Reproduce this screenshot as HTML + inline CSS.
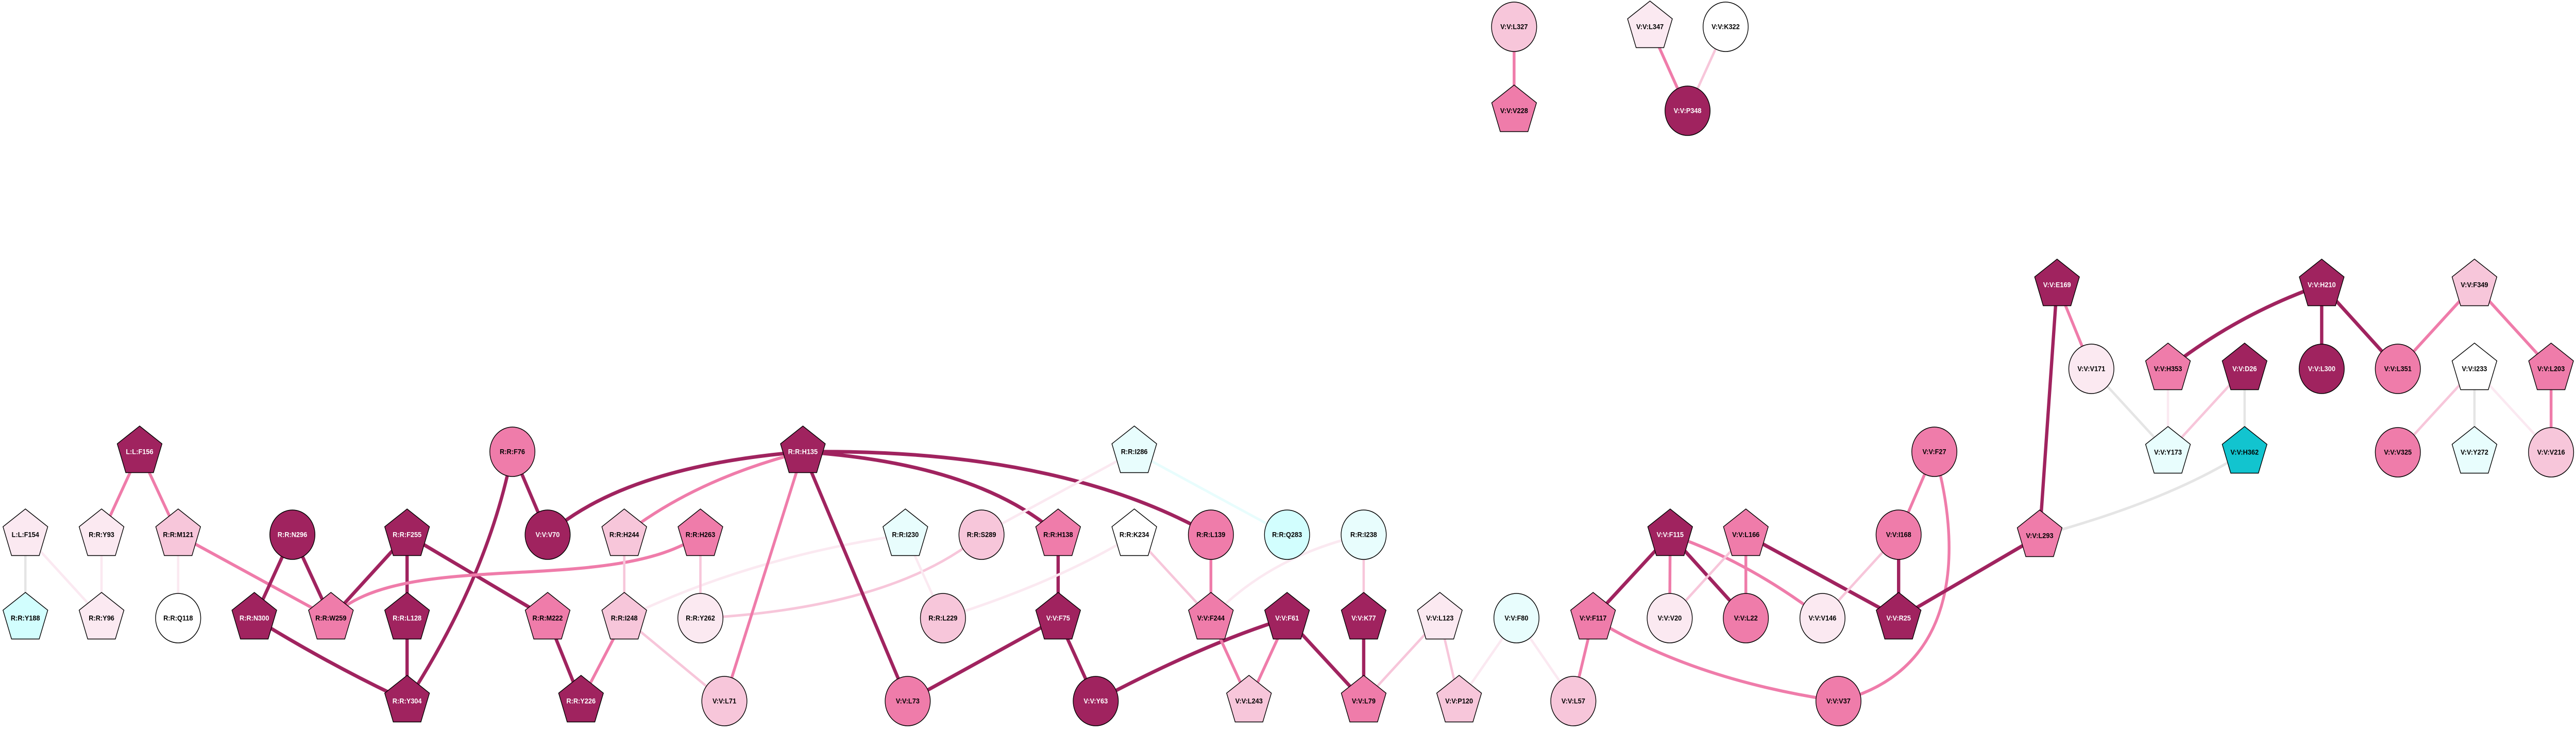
<!DOCTYPE html>
<html><head><meta charset="utf-8"><style>
html,body{margin:0;padding:0;background:#fff;width:100%;height:100%;overflow:hidden;}
svg{display:block;width:100vw;height:100vh;}
svg text{font-family:"Liberation Sans",sans-serif;font-weight:bold;font-size:14px;text-anchor:middle;dominant-baseline:central;}
.w{fill:#fff}
</style></head><body>
<svg viewBox="0 0 5480 1421" preserveAspectRatio="none" xmlns="http://www.w3.org/2000/svg" overflow="hidden">
<defs>
<polygon id="pg" points="0,-50 47.6,-15.5 29.4,40.5 -29.4,40.5 -47.6,-15.5" stroke="#000" stroke-width="1.5"/>
</defs>
<g fill="none" stroke-linecap="butt">
<line x1="297" y1="877" x2="216" y2="1038" stroke="#EF7CAA" stroke-width="6"/>
<line x1="297" y1="877" x2="379" y2="1038" stroke="#EF7CAA" stroke-width="6"/>
<line x1="54" y1="1038" x2="54" y2="1200" stroke="#E5E5E5" stroke-width="5"/>
<line x1="54" y1="1038" x2="216" y2="1200" stroke="#FBE9F1" stroke-width="5"/>
<line x1="216" y1="1038" x2="216" y2="1200" stroke="#FBE9F1" stroke-width="5"/>
<line x1="379" y1="1038" x2="379" y2="1200" stroke="#FBE9F1" stroke-width="5"/>
<line x1="379" y1="1038" x2="704" y2="1200" stroke="#EF7CAA" stroke-width="6"/>
<line x1="622" y1="1038" x2="541" y2="1200" stroke="#A0235F" stroke-width="7"/>
<line x1="622" y1="1038" x2="704" y2="1200" stroke="#A0235F" stroke-width="7"/>
<line x1="866" y1="1038" x2="704" y2="1200" stroke="#A0235F" stroke-width="7"/>
<line x1="866" y1="1038" x2="866" y2="1200" stroke="#A0235F" stroke-width="7"/>
<line x1="866" y1="1038" x2="1165" y2="1200" stroke="#A0235F" stroke-width="7"/>
<line x1="866" y1="1200" x2="866" y2="1361" stroke="#A0235F" stroke-width="7"/>
<path d="M541,1200 Q700,1290 866,1361" stroke="#A0235F" stroke-width="7"/>
<path d="M1090,877 Q1040,1116 866,1361" stroke="#A0235F" stroke-width="7"/>
<line x1="1090" y1="877" x2="1165" y2="1038" stroke="#A0235F" stroke-width="7"/>
<path d="M1165,1038 Q1330,905 1708,877" stroke="#A0235F" stroke-width="7"/>
<path d="M704,1200 C850,1060 1300,1160 1490,1038" stroke="#EF7CAA" stroke-width="6"/>
<path d="M1328,1038 Q1480,930 1708,877" stroke="#EF7CAA" stroke-width="6"/>
<line x1="1328" y1="1038" x2="1328" y2="1200" stroke="#F7C6DA" stroke-width="5"/>
<line x1="1328" y1="1200" x2="1236" y2="1361" stroke="#EF7CAA" stroke-width="6"/>
<line x1="1165" y1="1200" x2="1236" y2="1361" stroke="#A0235F" stroke-width="7"/>
<line x1="1328" y1="1200" x2="1541" y2="1361" stroke="#F7C6DA" stroke-width="5"/>
<path d="M1328,1200 Q1600,1080 1926,1038" stroke="#FBE9F1" stroke-width="5"/>
<path d="M2088,1038 Q1900,1180 1490,1200" stroke="#F7C6DA" stroke-width="5"/>
<line x1="1490" y1="1038" x2="1490" y2="1200" stroke="#F7C6DA" stroke-width="5"/>
<line x1="1708" y1="877" x2="1541" y2="1361" stroke="#EF7CAA" stroke-width="6"/>
<line x1="1708" y1="877" x2="1931" y2="1361" stroke="#A0235F" stroke-width="7"/>
<path d="M1708,877 Q2080,900 2251,1038" stroke="#A0235F" stroke-width="7"/>
<path d="M1708,877 Q2250,870 2576,1038" stroke="#A0235F" stroke-width="7"/>
<line x1="2413" y1="877" x2="2088" y2="1038" stroke="#FBE9F1" stroke-width="5"/>
<line x1="2413" y1="877" x2="2738" y2="1038" stroke="#E8FDFD" stroke-width="5"/>
<line x1="1926" y1="1038" x2="2006" y2="1200" stroke="#FBE9F1" stroke-width="5"/>
<line x1="2251" y1="1038" x2="2251" y2="1200" stroke="#A0235F" stroke-width="7"/>
<path d="M2413,1038 Q2250,1130 2006,1200" stroke="#FBE9F1" stroke-width="5"/>
<line x1="2413" y1="1038" x2="2576" y2="1200" stroke="#F7C6DA" stroke-width="5"/>
<line x1="2576" y1="1038" x2="2576" y2="1200" stroke="#EF7CAA" stroke-width="6"/>
<line x1="2251" y1="1200" x2="1931" y2="1361" stroke="#A0235F" stroke-width="7"/>
<line x1="2251" y1="1200" x2="2331" y2="1361" stroke="#A0235F" stroke-width="7"/>
<path d="M2738,1200 Q2560,1250 2331,1361" stroke="#A0235F" stroke-width="7"/>
<line x1="2738" y1="1200" x2="2657" y2="1361" stroke="#EF7CAA" stroke-width="6"/>
<line x1="2576" y1="1200" x2="2657" y2="1361" stroke="#EF7CAA" stroke-width="6"/>
<path d="M2576,1200 Q2700,1080 2901,1038" stroke="#FBE9F1" stroke-width="5"/>
<line x1="2738" y1="1200" x2="2901" y2="1361" stroke="#A0235F" stroke-width="7"/>
<line x1="2901" y1="1038" x2="2901" y2="1200" stroke="#F7C6DA" stroke-width="5"/>
<line x1="2901" y1="1200" x2="2901" y2="1361" stroke="#A0235F" stroke-width="7"/>
<line x1="3063" y1="1200" x2="2901" y2="1361" stroke="#F7C6DA" stroke-width="5"/>
<line x1="3063" y1="1200" x2="3104" y2="1361" stroke="#F7C6DA" stroke-width="5"/>
<line x1="3226" y1="1200" x2="3104" y2="1361" stroke="#FBE9F1" stroke-width="5"/>
<line x1="3226" y1="1200" x2="3347" y2="1361" stroke="#FBE9F1" stroke-width="5"/>
<line x1="3389" y1="1200" x2="3347" y2="1361" stroke="#EF7CAA" stroke-width="6"/>
<line x1="3553" y1="1038" x2="3389" y2="1200" stroke="#A0235F" stroke-width="7"/>
<line x1="3553" y1="1038" x2="3552" y2="1200" stroke="#EF7CAA" stroke-width="6"/>
<line x1="3553" y1="1038" x2="3714" y2="1200" stroke="#A0235F" stroke-width="7"/>
<path d="M3553,1038 Q3720,1090 3877,1200" stroke="#EF7CAA" stroke-width="6"/>
<line x1="3714" y1="1038" x2="3552" y2="1200" stroke="#F7C6DA" stroke-width="5"/>
<line x1="3714" y1="1038" x2="3714" y2="1200" stroke="#EF7CAA" stroke-width="6"/>
<line x1="3714" y1="1038" x2="4039" y2="1200" stroke="#A0235F" stroke-width="7"/>
<line x1="4039" y1="1038" x2="3877" y2="1200" stroke="#F7C6DA" stroke-width="5"/>
<line x1="4039" y1="1038" x2="4039" y2="1200" stroke="#A0235F" stroke-width="7"/>
<line x1="4115" y1="877" x2="4039" y2="1038" stroke="#EF7CAA" stroke-width="6"/>
<path d="M4115,877 C4170,1050 4180,1300 3911,1361" stroke="#EF7CAA" stroke-width="6"/>
<path d="M3389,1200 Q3600,1320 3911,1361" stroke="#EF7CAA" stroke-width="6"/>
<line x1="4039" y1="1200" x2="4339" y2="1040" stroke="#A0235F" stroke-width="7"/>
<line x1="4376" y1="553" x2="4339" y2="1040" stroke="#A0235F" stroke-width="7"/>
<line x1="4376" y1="553" x2="4449" y2="716" stroke="#EF7CAA" stroke-width="6"/>
<line x1="4449" y1="716" x2="4612" y2="878" stroke="#E5E5E5" stroke-width="5"/>
<path d="M4939,553 Q4760,610 4612,716" stroke="#A0235F" stroke-width="7"/>
<line x1="4939" y1="553" x2="4939" y2="716" stroke="#A0235F" stroke-width="7"/>
<line x1="4939" y1="553" x2="5101" y2="716" stroke="#A0235F" stroke-width="7"/>
<line x1="4612" y1="716" x2="4612" y2="878" stroke="#FBE9F1" stroke-width="5"/>
<line x1="4775" y1="716" x2="4612" y2="878" stroke="#F7C6DA" stroke-width="5"/>
<line x1="4775" y1="716" x2="4775" y2="878" stroke="#E5E5E5" stroke-width="5"/>
<path d="M4775,878 Q4620,970 4339,1040" stroke="#E5E5E5" stroke-width="5"/>
<line x1="5264" y1="553" x2="5101" y2="716" stroke="#EF7CAA" stroke-width="6"/>
<line x1="5264" y1="553" x2="5427" y2="716" stroke="#EF7CAA" stroke-width="6"/>
<line x1="5264" y1="716" x2="5101" y2="878" stroke="#F7C6DA" stroke-width="5"/>
<line x1="5264" y1="716" x2="5264" y2="878" stroke="#E5E5E5" stroke-width="5"/>
<line x1="5264" y1="716" x2="5427" y2="878" stroke="#FBE9F1" stroke-width="5"/>
<line x1="5427" y1="716" x2="5427" y2="878" stroke="#EF7CAA" stroke-width="6"/>
<line x1="3221" y1="52" x2="3221" y2="215" stroke="#EF7CAA" stroke-width="6"/>
<line x1="3510" y1="52" x2="3590" y2="215" stroke="#EF7CAA" stroke-width="6"/>
<line x1="3671" y1="52" x2="3590" y2="215" stroke="#F7C6DA" stroke-width="5"/>
</g>
<g>
<use href="#pg" x="297" y="877" fill="#A0235F"/><text x="297" y="877" class="w">L:L:F156</text>
<use href="#pg" x="54" y="1038" fill="#FBE9F1"/><text x="54" y="1038">L:L:F154</text>
<use href="#pg" x="216" y="1038" fill="#FBE9F1"/><text x="216" y="1038">R:R:Y93</text>
<use href="#pg" x="379" y="1038" fill="#F7C6DA"/><text x="379" y="1038">R:R:M121</text>
<use href="#pg" x="866" y="1038" fill="#A0235F"/><text x="866" y="1038" class="w">R:R:F255</text>
<use href="#pg" x="1328" y="1038" fill="#F7C6DA"/><text x="1328" y="1038">R:R:H244</text>
<use href="#pg" x="54" y="1200" fill="#D2FEFE"/><text x="54" y="1200">R:R:Y188</text>
<use href="#pg" x="216" y="1200" fill="#FBE9F1"/><text x="216" y="1200">R:R:Y96</text>
<use href="#pg" x="541" y="1200" fill="#A0235F"/><text x="541" y="1200" class="w">R:R:N300</text>
<use href="#pg" x="704" y="1200" fill="#EF7CAA"/><text x="704" y="1200">R:R:W259</text>
<use href="#pg" x="866" y="1200" fill="#A0235F"/><text x="866" y="1200" class="w">R:R:L128</text>
<use href="#pg" x="1165" y="1200" fill="#EF7CAA"/><text x="1165" y="1200">R:R:M222</text>
<use href="#pg" x="1328" y="1200" fill="#F7C6DA"/><text x="1328" y="1200">R:R:I248</text>
<use href="#pg" x="866" y="1361" fill="#A0235F"/><text x="866" y="1361" class="w">R:R:Y304</text>
<use href="#pg" x="1236" y="1361" fill="#A0235F"/><text x="1236" y="1361" class="w">R:R:Y226</text>
<use href="#pg" x="1708" y="877" fill="#A0235F"/><text x="1708" y="877" class="w">R:R:H135</text>
<use href="#pg" x="2413" y="877" fill="#E8FDFD"/><text x="2413" y="877">R:R:I286</text>
<use href="#pg" x="1490" y="1038" fill="#EF7CAA"/><text x="1490" y="1038">R:R:H263</text>
<use href="#pg" x="1926" y="1038" fill="#E8FDFD"/><text x="1926" y="1038">R:R:I230</text>
<use href="#pg" x="2251" y="1038" fill="#EF7CAA"/><text x="2251" y="1038">R:R:H138</text>
<use href="#pg" x="2413" y="1038" fill="#FFFFFF"/><text x="2413" y="1038">R:R:K234</text>
<use href="#pg" x="2251" y="1200" fill="#A0235F"/><text x="2251" y="1200" class="w">V:V:F75</text>
<use href="#pg" x="2576" y="1200" fill="#EF7CAA"/><text x="2576" y="1200">V:V:F244</text>
<use href="#pg" x="2738" y="1200" fill="#A0235F"/><text x="2738" y="1200" class="w">V:V:F61</text>
<use href="#pg" x="2657" y="1361" fill="#F7C6DA"/><text x="2657" y="1361">V:V:L243</text>
<use href="#pg" x="3221" y="215" fill="#EF7CAA"/><text x="3221" y="215">V:V:V228</text>
<use href="#pg" x="3510" y="52" fill="#FBE9F1"/><text x="3510" y="52">V:V:L347</text>
<use href="#pg" x="3553" y="1038" fill="#A0235F"/><text x="3553" y="1038" class="w">V:V:F115</text>
<use href="#pg" x="3714" y="1038" fill="#EF7CAA"/><text x="3714" y="1038">V:V:L166</text>
<use href="#pg" x="2901" y="1200" fill="#A0235F"/><text x="2901" y="1200" class="w">V:V:K77</text>
<use href="#pg" x="3063" y="1200" fill="#FBE9F1"/><text x="3063" y="1200">V:V:L123</text>
<use href="#pg" x="3389" y="1200" fill="#EF7CAA"/><text x="3389" y="1200">V:V:F117</text>
<use href="#pg" x="4039" y="1200" fill="#A0235F"/><text x="4039" y="1200" class="w">V:V:R25</text>
<use href="#pg" x="2901" y="1361" fill="#EF7CAA"/><text x="2901" y="1361">V:V:L79</text>
<use href="#pg" x="3104" y="1361" fill="#F7C6DA"/><text x="3104" y="1361">V:V:P120</text>
<use href="#pg" x="4376" y="553" fill="#A0235F"/><text x="4376" y="553" class="w">V:V:E169</text>
<use href="#pg" x="4939" y="553" fill="#A0235F"/><text x="4939" y="553" class="w">V:V:H210</text>
<use href="#pg" x="5264" y="553" fill="#F7C6DA"/><text x="5264" y="553">V:V:F349</text>
<use href="#pg" x="4612" y="716" fill="#EF7CAA"/><text x="4612" y="716">V:V:H353</text>
<use href="#pg" x="4775" y="716" fill="#A0235F"/><text x="4775" y="716" class="w">V:V:D26</text>
<use href="#pg" x="5264" y="716" fill="#FFFFFF"/><text x="5264" y="716">V:V:I233</text>
<use href="#pg" x="5427" y="716" fill="#EF7CAA"/><text x="5427" y="716">V:V:L203</text>
<use href="#pg" x="4612" y="878" fill="#E8FDFD"/><text x="4612" y="878">V:V:Y173</text>
<use href="#pg" x="4775" y="878" fill="#12C4CF"/><text x="4775" y="878">V:V:H362</text>
<use href="#pg" x="5264" y="878" fill="#E8FDFD"/><text x="5264" y="878">V:V:Y272</text>
<use href="#pg" x="4339" y="1040" fill="#EF7CAA"/><text x="4339" y="1040">V:V:L293</text>
</g>
<g stroke="#000" stroke-width="1.5">
<circle cx="622" cy="1038" r="48" fill="#A0235F"/>
<circle cx="1090" cy="877" r="48" fill="#EF7CAA"/>
<circle cx="1165" cy="1038" r="48" fill="#A0235F"/>
<circle cx="379" cy="1200" r="48" fill="#FFFFFF"/>
<circle cx="2088" cy="1038" r="48" fill="#F7C6DA"/>
<circle cx="2576" cy="1038" r="48" fill="#EF7CAA"/>
<circle cx="2738" cy="1038" r="48" fill="#D2FEFE"/>
<circle cx="1490" cy="1200" r="48" fill="#FBE9F1"/>
<circle cx="2006" cy="1200" r="48" fill="#F7C6DA"/>
<circle cx="1541" cy="1361" r="48" fill="#F7C6DA"/>
<circle cx="1931" cy="1361" r="48" fill="#EF7CAA"/>
<circle cx="2331" cy="1361" r="48" fill="#A0235F"/>
<circle cx="3221" cy="52" r="48" fill="#F7C6DA"/>
<circle cx="3671" cy="52" r="48" fill="#FFFFFF"/>
<circle cx="3590" cy="215" r="48" fill="#A0235F"/>
<circle cx="4115" cy="877" r="48" fill="#EF7CAA"/>
<circle cx="2901" cy="1038" r="48" fill="#E8FDFD"/>
<circle cx="4039" cy="1038" r="48" fill="#EF7CAA"/>
<circle cx="3226" cy="1200" r="48" fill="#E8FDFD"/>
<circle cx="3552" cy="1200" r="48" fill="#FBE9F1"/>
<circle cx="3714" cy="1200" r="48" fill="#EF7CAA"/>
<circle cx="3877" cy="1200" r="48" fill="#FBE9F1"/>
<circle cx="3347" cy="1361" r="48" fill="#F7C6DA"/>
<circle cx="3911" cy="1361" r="48" fill="#EF7CAA"/>
<circle cx="4449" cy="716" r="48" fill="#FBE9F1"/>
<circle cx="4939" cy="716" r="48" fill="#A0235F"/>
<circle cx="5101" cy="716" r="48" fill="#EF7CAA"/>
<circle cx="5101" cy="878" r="48" fill="#EF7CAA"/>
<circle cx="5427" cy="878" r="48" fill="#F7C6DA"/>
</g>
<g>
<text x="622" y="1038" class="w">R:R:N296</text>
<text x="1090" y="877">R:R:F76</text>
<text x="1165" y="1038" class="w">V:V:V70</text>
<text x="379" y="1200">R:R:Q118</text>
<text x="2088" y="1038">R:R:S289</text>
<text x="2576" y="1038">R:R:L139</text>
<text x="2738" y="1038">R:R:Q283</text>
<text x="1490" y="1200">R:R:Y262</text>
<text x="2006" y="1200">R:R:L229</text>
<text x="1541" y="1361">V:V:L71</text>
<text x="1931" y="1361">V:V:L73</text>
<text x="2331" y="1361" class="w">V:V:Y63</text>
<text x="3221" y="52">V:V:L327</text>
<text x="3671" y="52">V:V:K322</text>
<text x="3590" y="215" class="w">V:V:P348</text>
<text x="4115" y="877">V:V:F27</text>
<text x="2901" y="1038">R:R:I238</text>
<text x="4039" y="1038">V:V:I168</text>
<text x="3226" y="1200">V:V:F80</text>
<text x="3552" y="1200">V:V:V20</text>
<text x="3714" y="1200">V:V:L22</text>
<text x="3877" y="1200">V:V:V146</text>
<text x="3347" y="1361">V:V:L57</text>
<text x="3911" y="1361">V:V:V37</text>
<text x="4449" y="716">V:V:V171</text>
<text x="4939" y="716" class="w">V:V:L300</text>
<text x="5101" y="716">V:V:L351</text>
<text x="5101" y="878">V:V:V325</text>
<text x="5427" y="878">V:V:V216</text>
</g>
</svg>
</body></html>
